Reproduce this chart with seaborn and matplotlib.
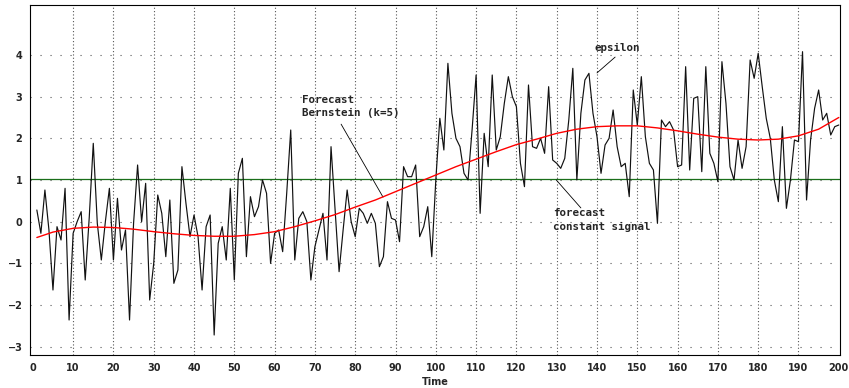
import numpy as np
import pandas as pd
import matplotlib
matplotlib.use("Agg")
import matplotlib.pyplot as plt
import seaborn as sns
from matplotlib.ticker import MultipleLocator

# ---- data ----
time = list(range(1, 201))
epsilon = [
    0.28, -0.28, 0.76, -0.2, -1.64, -0.12, -0.44, 0.8, -2.36, -0.28,
    0.0, 0.24, -1.4, 0.1, 1.88, -0.04, -0.92, 0.0, 0.8, -0.92,
    0.56, -0.68, -0.2, -2.36, -0.04, 1.36, 0.0, 0.92, -1.88, -1.0,
    0.64, 0.2, -0.84, 0.52, -1.48, -1.16, 1.32, 0.44, -0.36, 0.16,
    -0.36, -1.64, -0.12, 0.16, -2.72, -0.52, -0.12, -0.92, 0.8, -1.4,
    1.16, 1.52, -0.84, 0.6, 0.12, 0.36, 1.0, 0.68, -1.0, -0.28,
    -0.2, -0.72, 0.68, 2.2, -0.92, 0.08, 0.24, 0.0, -1.4, -0.6,
    -0.2, 0.2, -0.92, 1.8, 0.3, -1.2, -0.2, 0.76, 0.0, -0.36,
    0.32, 0.2, -0.04, 0.2, -0.04, -1.08, -0.84, 0.48, 0.08, 0.04,
    -0.48, 1.32, 1.08, 1.08, 1.36, -0.36, -0.12, 0.36, -0.84, 1.0,
    2.48, 1.72, 3.8, 2.6, 2.0, 1.8, 1.16, 1.0, 2.2, 3.52,
    0.2, 2.12, 1.32, 3.52, 1.72, 2.04, 2.84, 3.48, 3.0, 2.76,
    1.4, 0.84, 3.28, 1.8, 1.76, 2.0, 1.64, 3.24, 1.48, 1.4,
    1.28, 1.52, 2.44, 3.68, 1.0, 2.6, 3.4, 3.56, 2.6, 2.04,
    1.16, 1.84, 2.0, 2.68, 1.8, 1.32, 1.4, 0.6, 3.16, 2.32,
    3.48, 2.04, 1.4, 1.24, -0.04, 2.44, 2.28, 2.4, 2.2, 1.32,
    1.36, 3.72, 1.24, 2.96, 3.0, 1.2, 3.72, 1.64, 1.4, 0.96,
    3.84, 2.84, 1.32, 1.0, 1.96, 1.28, 1.8, 3.88, 3.44, 4.04,
    3.24, 2.48, 2.0, 1.0, 0.48, 2.28, 0.32, 1.0, 1.96, 1.92,
    4.08, 0.52, 1.96, 2.72, 3.16, 2.44, 2.6, 2.08, 2.28, 2.32,
]
bern_time = [1, 5, 10, 15, 20, 25, 30, 35, 40, 45, 50, 55, 60, 65, 70, 75, 80,
             85, 90, 95, 100, 105, 110, 115, 120, 125, 130, 135, 140, 145, 150,
             155, 160, 165, 170, 175, 180, 185, 190, 195, 200]
bernstein = [-0.38, -0.25, -0.16, -0.13, -0.14, -0.18, -0.24, -0.29, -0.33,
             -0.35, -0.35, -0.31, -0.24, -0.12, 0.02, 0.17, 0.35, 0.52, 0.72,
             0.92, 1.12, 1.32, 1.5, 1.68, 1.85, 1.98, 2.12, 2.22, 2.28, 2.3,
             2.3, 2.25, 2.18, 2.1, 2.03, 1.98, 1.96, 1.98, 2.06, 2.22, 2.5]
constant_signal = 1.03
x_ticks = list(range(0, 201, 10))
y_ticks = [-3, -2, -1, 0, 1, 2, 3, 4]

df_eps = pd.DataFrame({"Time": time, "epsilon": epsilon})
df_b = pd.DataFrame({"Time": bern_time, "bern": bernstein})

sns.set_style("white")
plt.rcParams["lines.scale_dashes"] = False

fig = plt.figure(figsize=(8.49, 3.88), dpi=100)
ax = fig.add_axes([30 / 849, 1 - 355 / 388, 810 / 849, 350 / 388])

# grid
for xv in x_ticks[1:-1]:
    ax.axvline(xv, color="#555555", lw=0.8, ls=(0, (0.8, 1.6)), zorder=0)
for yv in y_ticks:
    ax.axhline(yv, color="#555555", lw=0.8, ls=(0, (0.8, 6.4)), zorder=0)

ax.axhline(constant_signal, color="#1a6e1a", lw=0.9, zorder=2)
sns.lineplot(data=df_eps, x="Time", y="epsilon", ax=ax, color="#111111",
             lw=0.85, zorder=3)
sns.lineplot(data=df_b, x="Time", y="bern", ax=ax, color="red",
             lw=1.0, zorder=4)

ax.set_xlim(-0.7, 200.3)
ax.set_ylim(-3.2, 5.2)
ax.set_xticks(x_ticks)
ax.set_yticks(y_ticks)
ax.xaxis.set_minor_locator(MultipleLocator(2.5))
ax.yaxis.set_minor_locator(MultipleLocator(0.2))
ax.tick_params(axis="both", which="major", direction="out", length=4,
               width=0.8, labelsize=7, pad=1.5)
ax.tick_params(axis="both", which="minor", direction="out", length=2,
               width=0.6)
for lab in ax.get_xticklabels() + ax.get_yticklabels():
    lab.set_fontweight("bold")
ax.set_xlabel("Time", fontsize=7, fontweight="bold", labelpad=3)
ax.set_ylabel("")
for sp in ax.spines.values():
    sp.set_visible(True)
    sp.set_color("black")
    sp.set_linewidth(0.8)

mono = "DejaVu Sans Mono"
fs = 7.8
kw = dict(family=mono, fontsize=fs, ha="left", va="center", fontweight="bold")
ax.text(139.5, 4.17, "epsilon", **kw)
ax.plot([140.0, 144.5], [3.57, 3.95], color="black", lw=0.6)
ax.text(66.8, 2.92, "Forecast", **kw)
ax.text(66.8, 2.61, "Bernstein (k=5)", **kw)
ax.plot([76.5, 86.9], [2.34, 0.59], color="black", lw=0.6)
ax.text(129.1, 0.21, "forecast", **kw)
ax.text(129.1, -0.12, "constant signal", **kw)
ax.plot([129.9, 136.0], [1.0, 0.33], color="black", lw=0.6)

fig.savefig("out.png", dpi=100)
